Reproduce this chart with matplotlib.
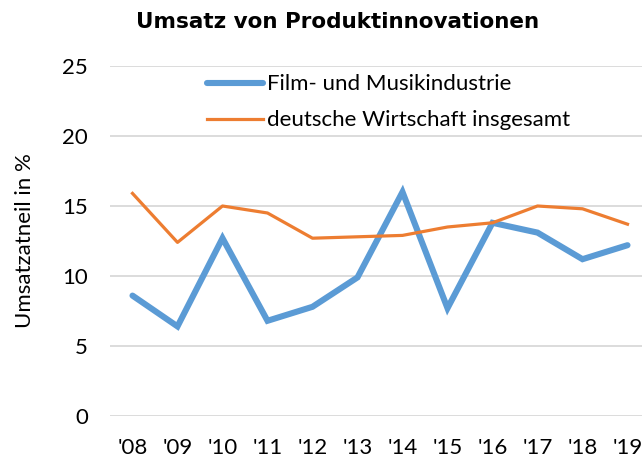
import matplotlib
matplotlib.use("Agg")
import matplotlib.pyplot as plt

plt.rcParams['font.family'] = ['Lato', 'DejaVu Sans']

# Daten
jahre = ["'08", "'09", "'10", "'11", "'12", "'13", "'14", "'15", "'16", "'17", "'18", "'19"]
film_musik = [8.6, 6.4, 12.7, 6.8, 7.8, 9.9, 16.0, 7.7, 13.8, 13.1, 11.2, 12.2]
wirtschaft = [15.9, 12.4, 15.0, 14.5, 12.7, 12.8, 12.9, 13.5, 13.8, 15.0, 14.8, 13.7]

BLAU = '#5B9BD5'
ORANGE = '#ED7D31'

fig = plt.figure(figsize=(6.42, 4.57), dpi=100)
fig.patch.set_facecolor('white')
# Achsenbereich in Pixeln: links 110, rechts 650, oben 66, unten 416
ax = fig.add_axes([110 / 642, 1 - 416 / 457, 540 / 642, 350 / 457])

x = list(range(len(jahre)))
ax.plot(x, film_musik, color=BLAU, lw=4.4, label='Film- und Musikindustrie',
        solid_capstyle='round', solid_joinstyle='miter')
ax.plot(x, wirtschaft, color=ORANGE, lw=2.3, label='deutsche Wirtschaft insgesamt')

ax.set_xlim(-0.5, len(jahre) - 0.5)
ax.set_ylim(0, 25)
ax.set_yticks([0, 5, 10, 15, 20, 25])
ax.set_xticks(x)
ax.set_xticklabels(jahre)
ax.yaxis.grid(True, color='#D9D9D9', lw=1.3)
ax.set_axisbelow(True)
for s in ax.spines.values():
    s.set_visible(False)
ax.tick_params(axis='both', length=0, labelsize=16, colors='black')
ax.tick_params(axis='y', pad=16)
ax.tick_params(axis='x', pad=16)

ax.set_ylabel('Umsatzatneil in %', fontsize=16)
ax.yaxis.set_label_coords((35 - 110) / 540, 0.5)

fig.text(338 / 642, 1 - 22 / 457, 'Umsatz von Produktinnovationen', ha='center', va='center',
         fontsize=15.5, fontweight='bold', family='DejaVu Sans')

leg = ax.legend(loc='upper left', bbox_to_anchor=(0.18, 0.976), frameon=False,
                fontsize=16, handlelength=2.5, handletextpad=0.2, labelspacing=0.72,
                borderpad=0, borderaxespad=0)

fig.savefig('out.png', dpi=100, facecolor='white')
